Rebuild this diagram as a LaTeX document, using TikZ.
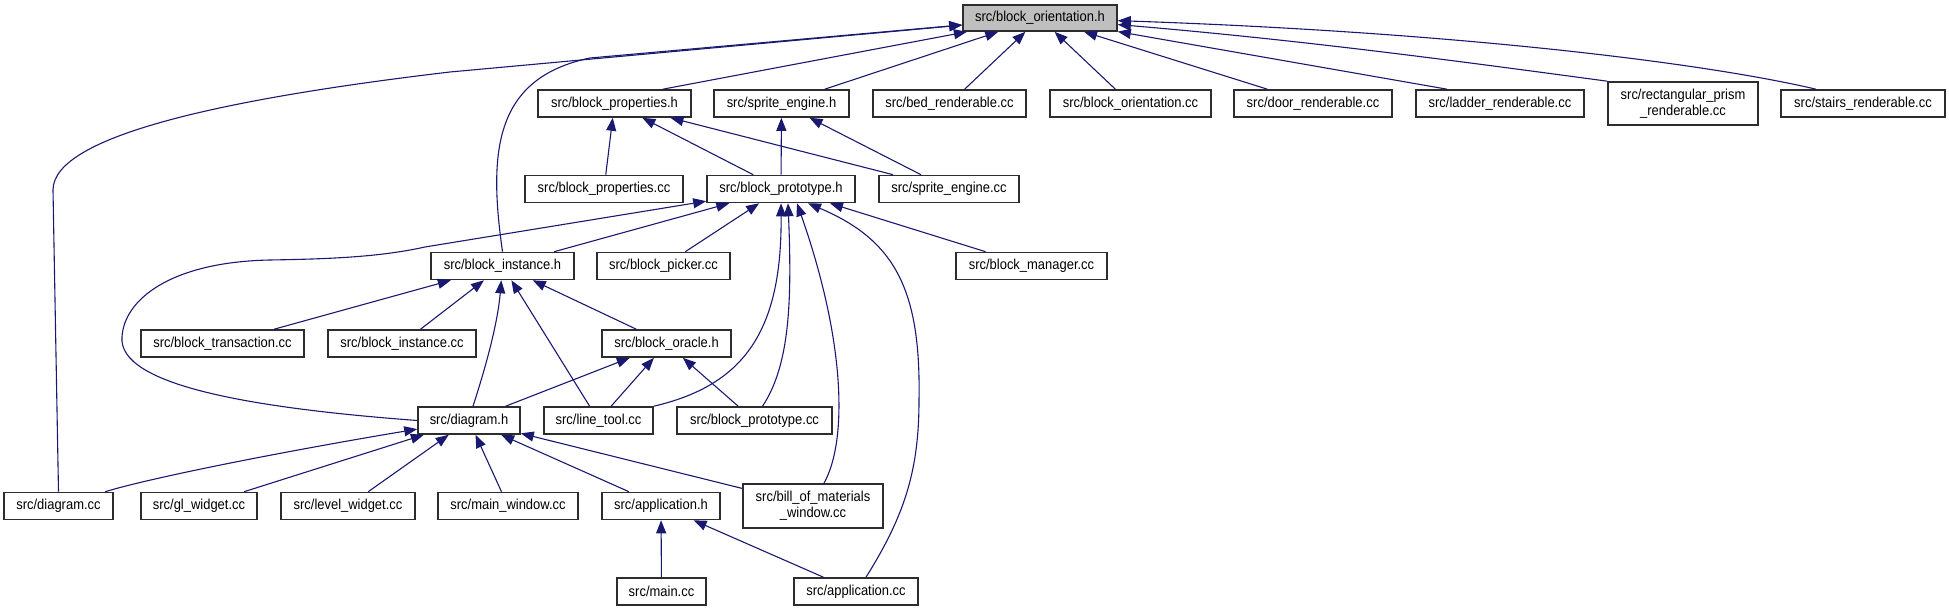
\documentclass[tikz,border=0pt]{standalone}
\usepackage{fontspec}
\setmainfont{Liberation Sans}[FakeStretch=0.9]
\usetikzlibrary{arrows.meta,positioning}
\definecolor{docnavy}{RGB}{25,25,112}
\definecolor{docgray}{RGB}{191,191,191}
\definecolor{docedge}{RGB}{45,45,45}

\begin{document}
\begin{tikzpicture}[
      x=0.5pt, y=-0.5pt,
      file/.style={draw=docedge, fill=white, line width=0.8pt, inner sep=0pt, minimum height=13.5pt, align=center, font=\fontsize{7.2}{8}\selectfont},
      inc/.style={-{Triangle[length=6.5pt,width=5pt]}, color=docnavy, line width=0.55pt}
    ]
      \useasboundingbox (0,0) rectangle (1949,613);

      % row 1
      \node[file, fill=docgray, minimum width=77pt, minimum height=13pt] (orih) at (1040,18) {src/block\_orientation.h};

      % row 2
      \node[file, minimum width=76.5pt] (proph) at (614.5,103.5) {src/block\_properties.h};
      \node[file, minimum width=67.5pt] (spriteh) at (781.5,103.5) {src/sprite\_engine.h};
      \node[file, minimum width=76.5pt] (bedcc) at (949.5,103.5) {src/bed\_renderable.cc};
      \node[file, minimum width=80.5pt] (oricc) at (1130.5,103.5) {src/block\_orientation.cc};
      \node[file, minimum width=79pt] (doorcc) at (1313,103.5) {src/door\_renderable.cc};
      \node[file, minimum width=84pt] (laddercc) at (1500,103.5) {src/ladder\_renderable.cc};
      \node[file, minimum width=75pt, minimum height=21.5pt] (prismcc) at (1683,103.5) {src/rectangular\_prism\\\_renderable.cc};
      \node[file, minimum width=82pt] (stairscc) at (1863,103.5) {src/stairs\_renderable.cc};

      % row 3
      \node[file, minimum width=79pt] (propcc) at (604,189) {src/block\_properties.cc};
      \node[file, minimum width=74pt] (protoh) at (781,189) {src/block\_prototype.h};
      \node[file, minimum width=70pt] (spritecc) at (949,189) {src/sprite\_engine.cc};

      % row 4
      \node[file, minimum width=71.5pt] (insth) at (502.5,266) {src/block\_instance.h};
      \node[file, minimum width=66.5pt] (pickercc) at (663.5,266) {src/block\_picker.cc};
      \node[file, minimum width=75.5pt] (managercc) at (1031.5,266) {src/block\_manager.cc};

      % row 5
      \node[file, minimum width=81.5pt] (transcc) at (222.5,343.5) {src/block\_transaction.cc};
      \node[file, minimum width=74pt] (instcc) at (402,343.5) {src/block\_instance.cc};
      \node[file, minimum width=64.5pt] (oracleh) at (666.5,343.5) {src/block\_oracle.h};

      % row 6
      \node[file, minimum width=51pt] (diagh) at (469,420.5) {src/diagram.h};
      \node[file, minimum width=54.5pt] (linecc) at (598.5,420.5) {src/line\_tool.cc};
      \node[file, minimum width=77.5pt] (protocc) at (754.5,420.5) {src/block\_prototype.cc};

      % row 7
      \node[file, minimum width=54.5pt] (diagcc) at (58.5,506) {src/diagram.cc};
      \node[file, minimum width=58pt] (glcc) at (199,506) {src/gl\_widget.cc};
      \node[file, minimum width=67pt] (levelcc) at (348,506) {src/level\_widget.cc};
      \node[file, minimum width=70pt] (windowcc) at (508,506) {src/main\_window.cc};
      \node[file, minimum width=59pt] (apph) at (661,506) {src/application.h};
      \node[file, minimum width=70pt, minimum height=22pt] (bomcc) at (813,506) {src/bill\_of\_materials\\\_window.cc};

      % row 8
      \node[file, minimum width=44.5pt] (maincc) at (661.5,591.5) {src/main.cc};
      \node[file, minimum width=62pt] (appcc) at (856,591.5) {src/application.cc};

      % into block_orientation.h
      \draw[inc] (diagcc.north) -- (53,190) .. controls (53,135) and (230,98) .. (450,72) -- (orih);
      \draw[inc] (insth.north) .. controls (488,150) and (495,78) .. (590,58) -- (orih);
      \draw[inc] ([xshift=-14.5pt]proph.north east) -- (orih);
      \draw[inc] (spriteh) -- (orih);
      \draw[inc] (bedcc) -- (orih);
      \draw[inc] (oricc) -- (orih);
      \draw[inc] (doorcc) -- (orih);
      \draw[inc] ([xshift=-26.5pt]laddercc.north) -- (orih);
      \draw[inc] (prismcc.north west) .. controls (1450,60) and (1300,40) .. (orih);
      \draw[inc] ([xshift=-23.5pt]stairscc.north) .. controls (1700,62) and (1450,32) .. (orih);

      % into block_properties.h and sprite_engine.h
      \draw[inc] (propcc) -- (proph);
      \draw[inc] (protoh) -- (proph);
      \draw[inc] (spritecc) -- (proph);
      \draw[inc] (protoh) -- (spriteh);
      \draw[inc] (spritecc) -- (spriteh);

      % into block_prototype.h
      \draw[inc] (diagh.west) .. controls (250,408) and (118,385) .. (122,337) .. controls (124,300) and (170,262) .. (270,260) .. controls (330,259) and (380,257) .. (425,247) -- (protoh);
      \draw[inc] (insth) -- (protoh);
      \draw[inc] (pickercc) -- (protoh);
      \draw[inc] (linecc.north east) .. controls (745,385) and (782,330) .. (protoh.south);
      \draw[inc] ([xshift=4pt]protocc.north) .. controls (790,365) and (792,300) .. ([xshift=3.5pt]protoh.south);
      \draw[inc] ([xshift=5.5pt]bomcc.north) .. controls (848,440) and (845,340) .. ([xshift=8pt]protoh.south);
      \draw[inc] ([xshift=5pt]appcc.north) .. controls (905,515) and (919,470) .. (919,400) .. controls (921,290) and (895,240) .. ([xshift=13.5pt]protoh.south);
      \draw[inc] (managercc) -- ([xshift=24.5pt]protoh.south);

      % into block_instance.h
      \draw[inc] (transcc) -- (insth);
      \draw[inc] (instcc) -- (insth);
      \draw[inc] ([xshift=2pt]diagh.north) .. controls (488,360) and (498,320) .. (insth);
      \draw[inc] (linecc) -- (insth);
      \draw[inc] (oracleh) -- (insth);

      % into block_oracle.h
      \draw[inc] (diagh) -- (oracleh);
      \draw[inc] (linecc) -- (oracleh);
      \draw[inc] (protocc) -- (oracleh);

      % into diagram.h
      \draw[inc] (diagcc) .. controls (150,478) and (280,452) .. (diagh);
      \draw[inc] (glcc) -- (diagh);
      \draw[inc] (levelcc) -- (diagh);
      \draw[inc] (windowcc) -- (diagh);
      \draw[inc] (apph) -- (diagh);
      \draw[inc] (bomcc) -- (diagh);

      % into application.h
      \draw[inc] (maincc) -- (apph);
      \draw[inc] (appcc) -- (apph);
    \end{tikzpicture}
\end{document}
